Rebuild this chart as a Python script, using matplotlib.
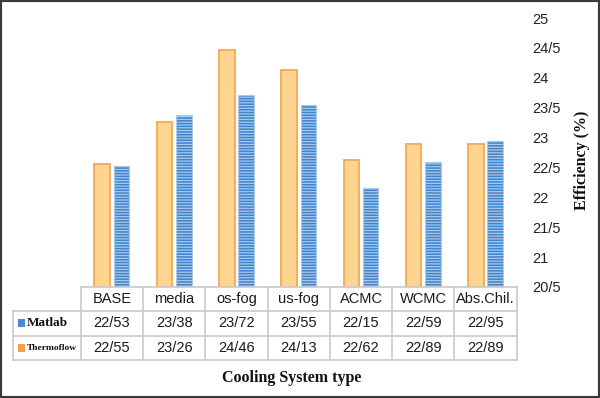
import matplotlib
matplotlib.use('Agg')
import matplotlib.pyplot as plt
import numpy as np
from matplotlib.patches import Rectangle
from matplotlib.lines import Line2D
from matplotlib.ticker import FuncFormatter, MultipleLocator
import matplotlib.transforms as mtransforms

categories = ['BASE', 'media', 'os-fog', 'us-fog', 'ACMC', 'WCMC', 'Abs.Chil.']
matlab = [22.53, 23.38, 23.72, 23.55, 22.15, 22.59, 22.95]
thermoflow = [22.55, 23.26, 24.46, 24.13, 22.62, 22.89, 22.89]
series_names = ['Matlab', 'Thermoflow']
x_label = 'Cooling System type'
y_label = 'Efficiency (%)'
y_min, y_max = 20.5, 25

W, H = 600, 398
plt.rcParams['hatch.linewidth'] = 1.1
fig = plt.figure(figsize=(6, 3.98), dpi=100)


def fx(p):
    return p / W


def fy(p):
    return 1 - p / H


ax = fig.add_axes([fx(80.7), fy(287), fx(516.7) - fx(80.7), fy(18) - fy(287)])
x = np.arange(len(categories))
bw, off = 0.25, 0.155

orange_face, orange_edge = '#fdd590', '#f7a850'
blue_face, blue_hatch = '#a8c9ec', '#3f84cc'

ax.bar(x - off, thermoflow, bw, color=orange_face, edgecolor=orange_edge, linewidth=1.3)
ax.bar(x + off, matlab, bw, color=blue_face, edgecolor=blue_hatch, hatch='------', linewidth=0)
ax.bar(x + off, matlab, bw, fill=False, edgecolor='#a9c9ea', linewidth=0.8)

ax.set_xlim(-0.5, len(categories) - 0.5)
ax.set_ylim(y_min, y_max)
ax.yaxis.set_major_locator(MultipleLocator(0.5))
ax.yaxis.set_major_formatter(FuncFormatter(lambda v, p: f"{v:g}".replace('.', '/')))
ax.yaxis.tick_right()
ax.tick_params(axis='y', length=0, pad=11, labelsize=10.5, labelcolor='#222222')
for lbl in ax.get_yticklabels():
    lbl.set_fontfamily('Liberation Sans')
    lbl.set_horizontalalignment('left')
ax.set_xticks([])
for s in ax.spines.values():
    s.set_visible(False)

# data table
tr = mtransforms.blended_transform_factory(ax.transData, fig.transFigure)
gc = '#c8c8c8'
left_edge = x[0] - 0.5
right_edge = x[-1] + 0.5
row_y = [287, 311, 335.5, 360]
tab_left_px = 13

fig.add_artist(Line2D([left_edge, right_edge], [fy(row_y[0])] * 2, transform=tr, color=gc, lw=1.2))
for yy in row_y[1:]:
    fig.add_artist(Line2D([fx(tab_left_px), fx(516.7)], [fy(yy)] * 2, transform=fig.transFigure, color=gc, lw=1.2))
fig.add_artist(Line2D([fx(tab_left_px)] * 2, [fy(row_y[1]), fy(row_y[3])], transform=fig.transFigure, color=gc, lw=1.2))
for e in np.append(x - 0.5, right_edge):
    fig.add_artist(Line2D([e, e], [fy(row_y[0]), fy(row_y[3])], transform=tr, color=gc, lw=1.2))

cell_font = dict(family='Liberation Sans', fontsize=10.5, color='#1a1a1a', ha='center', va='center')
for i, c in enumerate(categories):
    fig.text(x[i], fy((row_y[0] + row_y[1]) / 2), c, transform=tr, **cell_font)
    fig.text(x[i], fy((row_y[1] + row_y[2]) / 2), f"{matlab[i]:.2f}".replace('.', '/'), transform=tr, **cell_font)
    fig.text(x[i], fy((row_y[2] + row_y[3]) / 2), f"{thermoflow[i]:.2f}".replace('.', '/'), transform=tr, **cell_font)

# row labels with legend keys
for k, (name, col, fs) in enumerate(zip(series_names, ['#4a8ad0', '#f5a04a'], [9.5, 6.8])):
    yc = (row_y[k + 1] + row_y[k + 2]) / 2
    fig.add_artist(Rectangle((fx(17.5), fy(yc + 4)), fx(7.5), fy(yc - 4) - fy(yc + 4),
                             transform=fig.transFigure, facecolor=col, edgecolor='none'))
    fig.text(fx(27), fy(yc), name, family='Liberation Serif', fontweight='bold',
             fontsize=fs, ha='left', va='center', color='#111111')

fig.text(fx(292), fy(378), x_label, family='Liberation Serif', fontweight='bold',
         fontsize=11.5, ha='center', va='center', color='#111111')
fig.text(fx(582), fy(160), y_label, family='Liberation Serif', fontweight='bold',
         fontsize=11.5, ha='center', va='center', rotation=90, color='#111111')

fig.add_artist(Rectangle((0, 0), 1, 1, transform=fig.transFigure, fill=False,
                         edgecolor='#3a3a3a', linewidth=3))

fig.savefig('out.png', dpi=100)
